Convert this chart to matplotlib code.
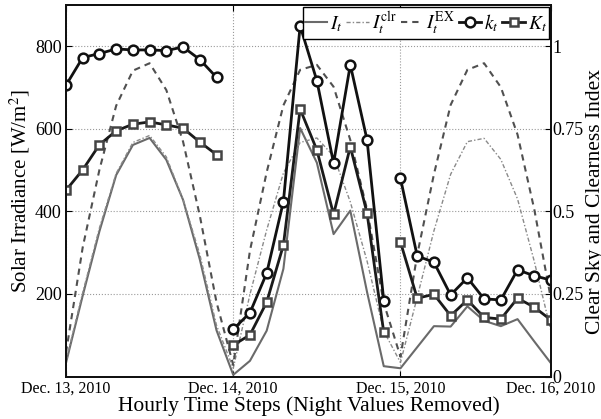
import numpy as np
import matplotlib
matplotlib.use("Agg")
import matplotlib.pyplot as plt
from matplotlib.lines import Line2D

plt.rcParams['font.family'] = ['Liberation Serif', 'DejaVu Serif']
plt.rcParams['mathtext.fontset'] = 'stix'

# ---- data (hourly steps, night values removed; 10 daylight hours per day) ----
hours = list(range(30))
day_tick_pos = [0, 10, 20, 29]
day_tick_labels = ['Dec. 13, 2010', 'Dec. 14, 2010', 'Dec. 15, 2010', 'Dec. 16, 2010']

I_t = [33, 196, 352, 488, 561, 578, 525, 428, 284, 112,
       4, 38, 111, 261, 602, 518, 345, 402, 205, 25,
       20, 71, 122, 121, 170, 135, 122, 139, 85, 32]

I_clr = [38, 203, 360, 492, 567, 584, 532, 429, 296, 124,
         20, 199, 355, 493, 567, 578, 534, 423, 280, 110,
         34, 192, 353, 490, 569, 577, 526, 430, 279, 110]

I_EX = [58, 313, 501, 656, 741, 759, 694, 569, 390, 180,
        28, 305, 495, 657, 743, 755, 702, 573, 405, 178,
        48, 295, 490, 658, 743, 759, 701, 586, 405, 187]

k_t = [0.882, 0.966, 0.978, 0.992, 0.989, 0.989, 0.987, 0.998, 0.960, 0.906,
       0.143, 0.193, 0.313, 0.530, 1.062, 0.896, 0.646, 0.944, 0.717, 0.230,
       0.600, 0.365, 0.346, 0.247, 0.299, 0.235, 0.232, 0.323, 0.305, 0.292]

K_t = [0.564, 0.626, 0.702, 0.744, 0.764, 0.771, 0.762, 0.752, 0.710, 0.672,
       0.095, 0.126, 0.225, 0.398, 0.810, 0.686, 0.491, 0.696, 0.495, 0.134,
       0.407, 0.237, 0.249, 0.184, 0.232, 0.179, 0.174, 0.237, 0.210, 0.171]

day_slices = [(0, 10), (10, 20), (20, 30)]

# ---- figure ----
fig = plt.figure(figsize=(6.01, 4.19), dpi=100)
ax = fig.add_axes([0.1098, 0.1014, 0.8070, 0.8866])
ax2 = ax.twinx()

c_it = '#6a6a6a'
c_clr = '#8a8a8a'
c_ex = '#505050'

l_it, = ax.plot(hours, I_t, color=c_it, lw=1.5, ls='-')
l_clr, = ax.plot(hours, I_clr, color=c_clr, lw=1.0, ls=(0, (3, 1.5, 1, 1.5)))
l_ex, = ax.plot(hours, I_EX, color=c_ex, lw=1.5, ls=(0, (3, 2.4)))

for a, b in day_slices:
    ax2.plot(hours[a:b], k_t[a:b], color='#111111', lw=2.0, marker='o', ms=7,
             mfc='white', mec='#111111', mew=1.8)
    ax2.plot(hours[a:b], K_t[a:b], color='#1a1a1a', lw=2.0, marker='s', ms=6,
             mfc='white', mec='#444444', mew=1.8)

ax.set_xlim(0, 29)
ax.set_ylim(0, 900)
ax2.set_ylim(0, 1.125)

ax.set_xticks(day_tick_pos)
ax.set_xticklabels(day_tick_labels, fontsize=11.5)
ax.set_yticks([200, 400, 600, 800])
ax.tick_params(axis='y', labelsize=13, direction='in', length=4, pad=3)
ax.tick_params(axis='x', direction='in', length=4, top=True, pad=3)
ax2.set_yticks([0, 0.25, 0.5, 0.75, 1])
ax2.set_yticklabels(['0', '0.25', '0.5', '0.75', '1'])
ax2.tick_params(axis='y', labelsize=13, direction='in', length=4, pad=1)

ax.grid(True, ls=':', color='#9a9a9a', lw=0.8)
for s in list(ax.spines.values()) + list(ax2.spines.values()):
    s.set_linewidth(1.4)
    s.set_color('#111111')

ax.set_xlabel('Hourly Time Steps (Night Values Removed)', fontsize=15.5, labelpad=0)
ax.set_ylabel('Solar Irradiance [W/m$^2$]', fontsize=15, labelpad=2)
fig.text(586 / 601, 0.5 + 0.02, 'Clear Sky and Clearness Index', rotation=90,
         fontsize=15.5, ha='left', va='center')

h_k = Line2D([], [], color='#111111', lw=2.0, marker='o', ms=7, mfc='white', mew=1.8)
h_K = Line2D([], [], color='#1a1a1a', lw=2.0, marker='s', ms=6, mfc='white', mec='#444444', mew=1.8)
leg = ax2.legend([l_it, l_clr, l_ex, h_k, h_K],
                 [r'$I_t$', r'$I_t^{\rm clr}$', r'$I_t^{\rm EX}$', r'$k_t$', r'$K_t$'],
                 loc='upper right', ncol=5, fontsize=14, handlelength=1.15,
                 handletextpad=0.15, columnspacing=0.2, borderpad=0.1,
                 borderaxespad=0.12, fancybox=False, framealpha=1,
                 edgecolor='black')
leg.get_frame().set_linewidth(1.0)

fig.savefig('out.png', dpi=100)
